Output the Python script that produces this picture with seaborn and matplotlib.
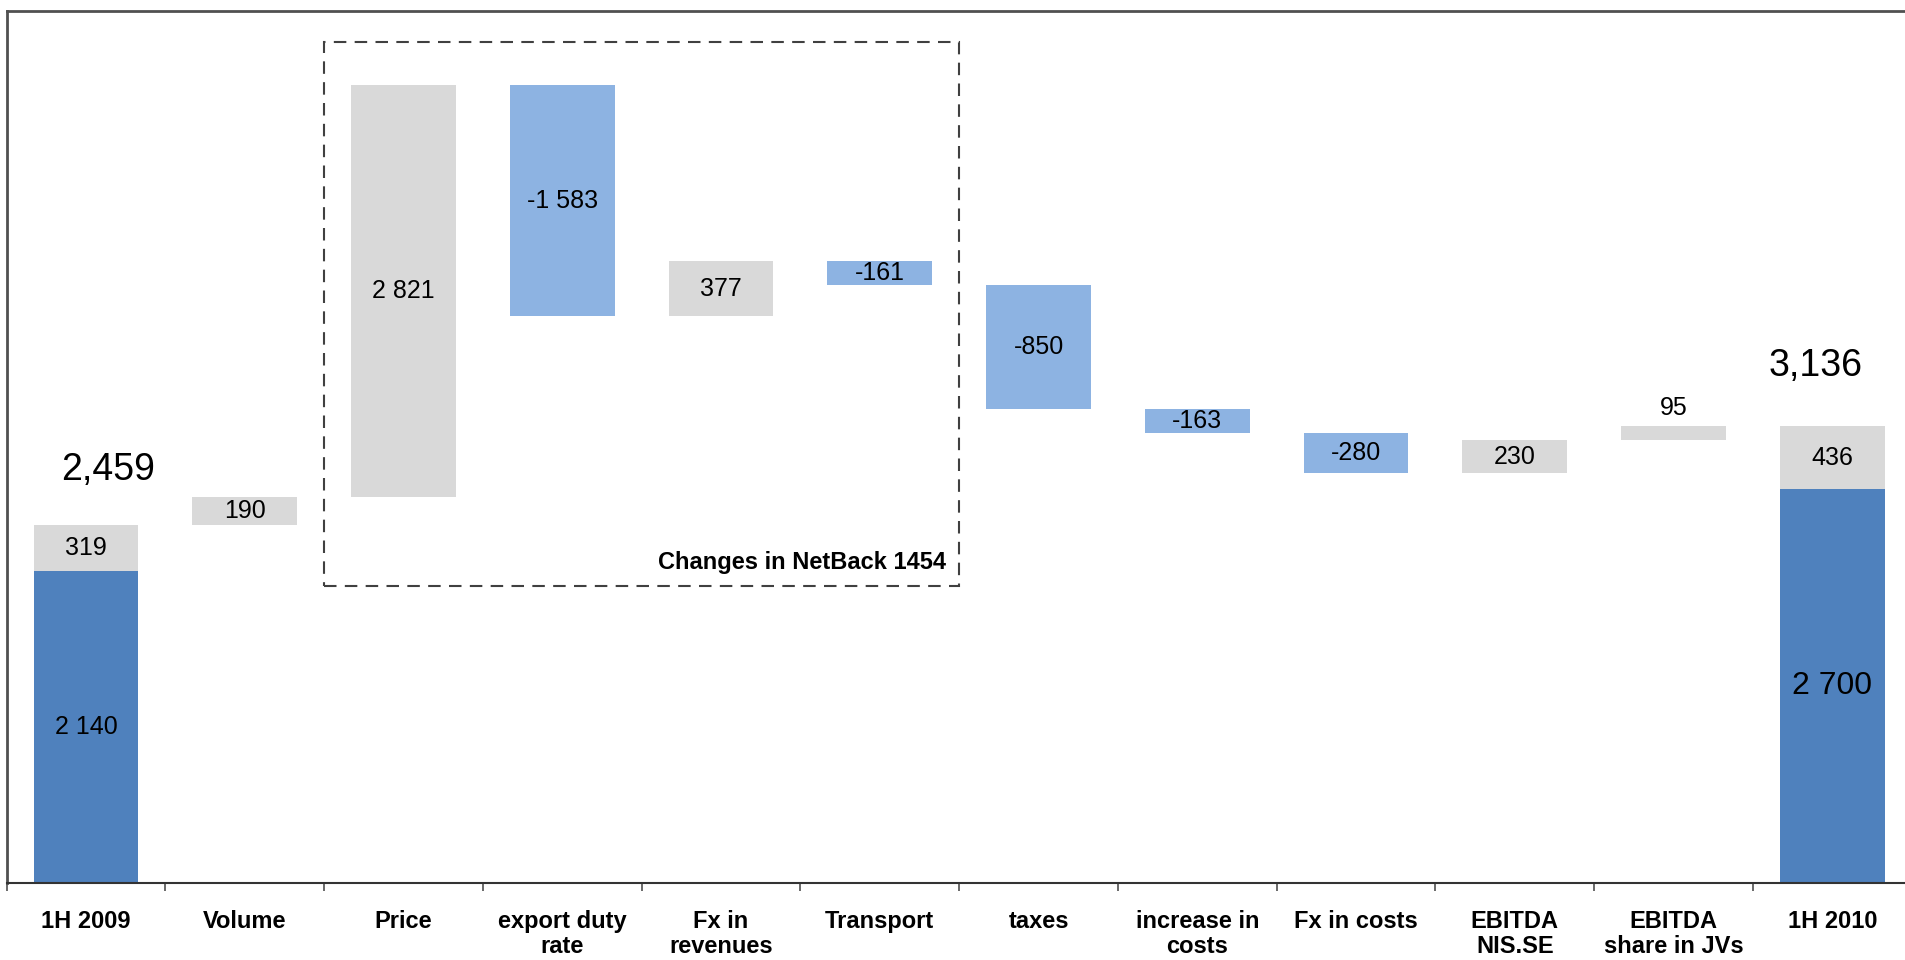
import matplotlib.pyplot as plt
import matplotlib.patches as mpatches
import numpy as np
import pandas as pd
import seaborn as sns

# chart data
categories = ['1H 2009', 'Volume', 'Price', 'export duty\nrate', 'Fx in\nrevenues',
              'Transport', 'taxes', 'increase in\ncosts', 'Fx in costs',
              'EBITDA\nNIS.SE', 'EBITDA\nshare in JVs', '1H 2010']
start_base, start_extra = 2140, 319
end_base, end_extra = 2700, 436
changes = [190, 2821, -1583, 377, -161, -850, -163, -280, 230, 95]
total_labels = ['2,459', '3,136']
box_caption = 'Changes in NetBack 1454'

DARK_BLUE = '#4F81BD'
LIGHT_BLUE = '#8DB3E2'
GRAY = '#D9D9D9'
FRAME = '#505050'

sns.set_style('white')
plt.rcParams['font.family'] = ['Liberation Sans', 'DejaVu Sans']
plt.rcParams['text.color'] = 'black'
plt.rcParams['xtick.labelcolor'] = 'black'

# running levels for the floating bars
start_total = start_base + start_extra
levels = start_total + np.cumsum([0] + changes)
before, after = levels[:-1], levels[1:]

upper = pd.DataFrame({
    'cat': categories,
    'bottom': [start_base] + list(np.minimum(before, after)) + [end_base],
    'height': [start_extra] + [abs(c) for c in changes] + [end_extra],
    'value': [start_extra] + changes + [end_extra],
})
upper['color'] = [GRAY if v > 0 else LIGHT_BLUE for v in upper['value']]

base = pd.DataFrame({'cat': [categories[0], categories[-1]],
                     'height': [start_base, end_base]})

fig = plt.figure(figsize=(19.05, 9.6), dpi=100)
ax = fig.add_axes([0.0035, 0.080, 1.0, 0.9085])

sns.barplot(data=upper, x='cat', y='height', order=categories,
            bottom=upper['bottom'].to_numpy(), width=0.66, errorbar=None,
            color=GRAY, saturation=1, linewidth=0, ax=ax)
for patch, c in zip(ax.patches, upper['color']):
    patch.set_facecolor(c)

sns.barplot(data=base, x='cat', y='height', order=categories, width=0.66,
            errorbar=None, color=DARK_BLUE, saturation=1, linewidth=0, ax=ax)


def fmt(v):
    return f'{v:,}'.replace(',', ' ')


# value labels
for i, row in upper.iterrows():
    if row['height'] < 120:
        ax.annotate(fmt(row['value']), (i, row['bottom'] + row['height']),
                    xytext=(0, 4), textcoords='offset points',
                    ha='center', va='bottom', fontsize=18)
    else:
        ax.text(i, row['bottom'] + row['height'] / 2, fmt(row['value']),
                ha='center', va='center', fontsize=18)

ax.text(0, start_base / 2, fmt(start_base), ha='center', va='center', fontsize=18)
ax.text(len(categories) - 1, end_base / 2, fmt(end_base), ha='center', va='center',
        fontsize=23)

# totals above the end bars
ax.annotate(total_labels[0], (0, start_total), xytext=(16, 26),
            textcoords='offset points', ha='center', va='bottom', fontsize=27)
ax.annotate(total_labels[1], (len(categories) - 1, end_base + end_extra),
            xytext=(-12, 30), textcoords='offset points', ha='center',
            va='bottom', fontsize=27)

# dashed box round the netback changes
box = mpatches.Rectangle((1.5, 2040), 4.0, 3730, fill=False, edgecolor='#404040',
                         linewidth=1.5, linestyle=(0, (6, 4)), clip_on=False)
ax.add_patch(box)
ax.text(5.42, 2200, box_caption, ha='right', va='center', fontsize=17,
        fontweight='bold')

ax.set_xlim(-0.5, len(categories) - 0.5)
ax.set_ylim(0, 5980)
ax.set_xlabel('')
ax.set_ylabel('')
ax.set_yticks([])
ax.set_xticks(range(len(categories)))
ax.set_xticklabels(categories, fontsize=17, fontweight='bold', linespacing=1.15)
ax.set_xticks(np.arange(-0.5, len(categories), 1.0), minor=True)
ax.tick_params(axis='x', which='major', length=0, pad=19)
ax.tick_params(axis='x', which='minor', length=6, width=1.2, color=FRAME,
               direction='out', bottom=True)

for side in ['left', 'top']:
    ax.spines[side].set_color(FRAME)
    ax.spines[side].set_linewidth(2)
ax.spines['bottom'].set_color('#333333')
ax.spines['bottom'].set_linewidth(1.5)
ax.spines['right'].set_visible(False)

fig.savefig('out.png', dpi=100)
